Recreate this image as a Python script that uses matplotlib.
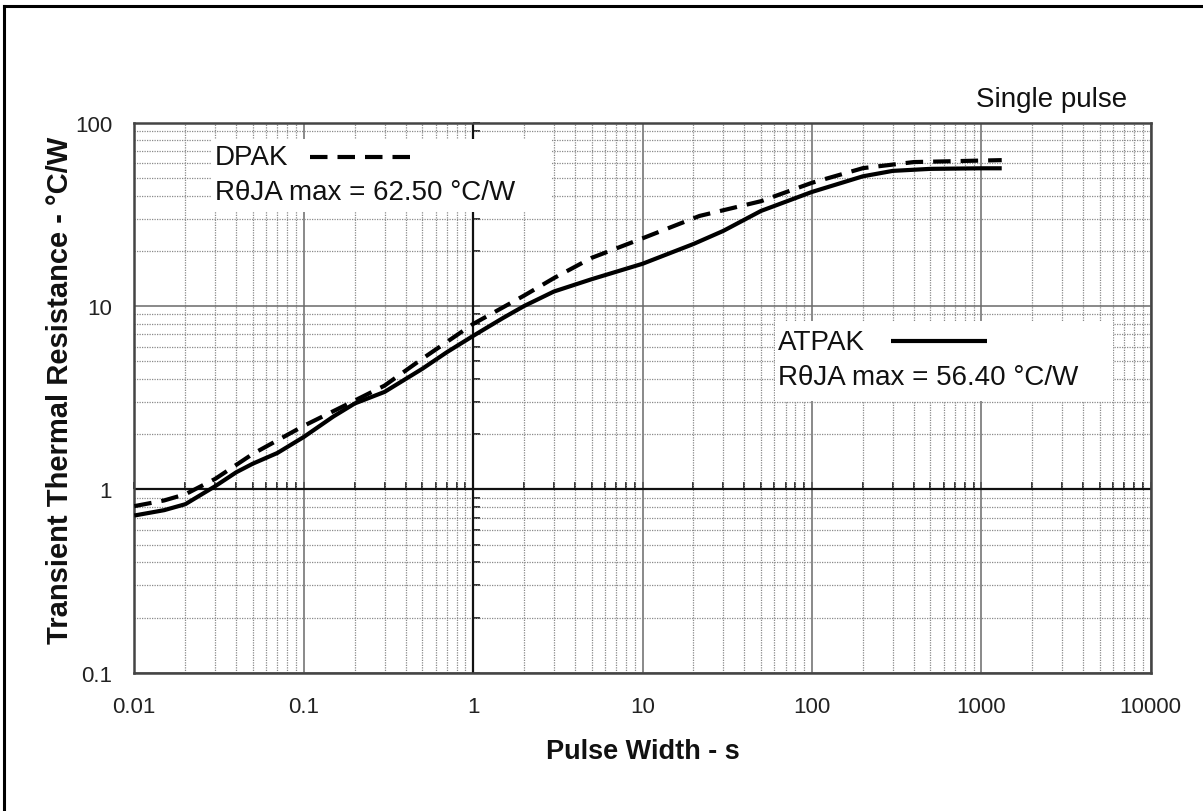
import matplotlib
matplotlib.use("Agg")
import matplotlib.pyplot as plt
from matplotlib.ticker import LogLocator, NullFormatter, FixedLocator, FixedFormatter
from matplotlib.lines import Line2D
from matplotlib.patches import Rectangle
import numpy as np

plt.rcParams['font.family'] = ['Liberation Sans', 'DejaVu Sans']

# ---- data ----
atpak_x = [0.01, 0.015, 0.02, 0.03, 0.04, 0.05, 0.07, 0.1, 0.15, 0.2, 0.3, 0.5, 0.7,
           1, 1.5, 2, 3, 5, 10, 20, 30, 50, 100, 200, 300, 500, 1000, 1320]
atpak_y = [0.72, 0.77, 0.83, 1.04, 1.24, 1.38, 1.58, 1.93, 2.50, 2.94, 3.40, 4.54, 5.6,
           6.87, 8.6, 10.0, 12.0, 14.0, 17.0, 21.8, 25.7, 33.0, 41.9, 51.0, 54.6, 56.0, 56.4, 56.4]

dpak_x = [0.01, 0.015, 0.02, 0.03, 0.05, 0.1, 0.2, 0.3, 0.5, 1, 2, 3, 5, 10, 21.7,
          50, 100, 200, 400, 1320]
dpak_y = [0.81, 0.87, 0.94, 1.14, 1.56, 2.22, 3.05, 3.68, 5.15, 7.98, 11.4, 14.2, 18.3,
          23.4, 31.0, 37.3, 47.0, 56.5, 61.0, 62.5]

x_ticks = [0.01, 0.1, 1, 10, 100, 1000, 10000]
x_labels = ["0.01", "0.1", "1", "10", "100", "1000", "10000"]
y_ticks = [0.1, 1, 10, 100]
y_labels = ["0.1", "1", "10", "100"]

W, H = 1203, 812
fig = plt.figure(figsize=(W / 100, H / 100), dpi=100)

L, R, T, B = 134.3, 1150.7, 123.7, 673.7
pos = [L / W, 1 - B / H, (R - L) / W, (B - T) / H]

# background axes: carries the tick marks of the internal axes (x=1, y=1)
ax2 = fig.add_axes(pos)
ax = fig.add_axes(pos, sharex=ax2, sharey=ax2)
ax2.set_zorder(1)
ax.set_zorder(2)
ax.patch.set_visible(False)
ax2.patch.set_facecolor('white')

ax.set_xscale('log')
ax.set_yscale('log')
ax.set_xlim(0.01, 10000)
ax.set_ylim(0.1, 100)

for a in (ax, ax2):
    a.xaxis.set_minor_locator(LogLocator(base=10, subs=np.arange(2, 10)))
    a.yaxis.set_minor_locator(LogLocator(base=10, subs=np.arange(2, 10)))
    a.xaxis.set_minor_formatter(NullFormatter())
    a.yaxis.set_minor_formatter(NullFormatter())

ax.xaxis.set_major_locator(FixedLocator(x_ticks))
ax.xaxis.set_major_formatter(FixedFormatter(x_labels))
ax.yaxis.set_major_locator(FixedLocator(y_ticks))
ax.yaxis.set_major_formatter(FixedFormatter(y_labels))

ax.tick_params(which='both', length=0)
ax.tick_params(axis='x', labelsize=16, pad=17, colors='#222222')
ax.tick_params(axis='y', labelsize=16, pad=16, colors='#222222')

ax.grid(which='major', color='#6a6a6a', linestyle='-', linewidth=1.1)
ax.grid(which='minor', color='#8a8a8a', linestyle=(0, (1, 1)), linewidth=0.9)
ax.set_axisbelow(True)

for s in ax.spines.values():
    s.set_color('#444444')
    s.set_linewidth(1.8)

ax2.spines['left'].set_position(('data', 1))
ax2.spines['bottom'].set_position(('data', 1))
for s in ax2.spines.values():
    s.set_visible(False)
ax2.tick_params(which='both', direction='in', length=5, width=1.2, color='#111111',
                labelbottom=False, labelleft=False)
ax2.grid(False)

# internal axis lines at x=1 and y=1
ax.axvline(1, color='#111111', linewidth=1.6, zorder=1.5)
ax.axhline(1, color='#111111', linewidth=1.6, zorder=1.5)

# curves
ax.plot(atpak_x, atpak_y, color='black', linewidth=3.0, solid_capstyle='butt',
        solid_joinstyle='round', zorder=3)
ax.plot(dpak_x, dpak_y, color='black', linewidth=3.0, linestyle=(0, (4.2, 2.4)),
        dash_capstyle='butt', zorder=3)

# legend boxes
def frac_x(px):
    return (px - L) / (R - L)

def frac_y(py):
    return (B - py) / (B - T)

ax.add_patch(Rectangle((frac_x(212), frac_y(213)), frac_x(552) - frac_x(212),
                       frac_y(140) - frac_y(213), transform=ax.transAxes,
                       facecolor='white', edgecolor='none', zorder=2))
ax.add_patch(Rectangle((frac_x(775), frac_y(402)), frac_x(1113) - frac_x(775),
                       frac_y(322) - frac_y(402), transform=ax.transAxes,
                       facecolor='white', edgecolor='none', zorder=2))

txt_kw = dict(transform=ax.transAxes, fontsize=20, color='#111111', va='center',
              ha='left', zorder=4)
ax.text(frac_x(215), frac_y(158), "DPAK", **txt_kw)
ax.text(frac_x(215), frac_y(193), "R\u03b8JA max = 62.50 \u00b0C/W", **txt_kw)
ax.text(frac_x(778), frac_y(343), "ATPAK", **txt_kw)
ax.text(frac_x(778), frac_y(378), "R\u03b8JA max = 56.40 \u00b0C/W", **txt_kw)

ax.add_line(Line2D([frac_x(310), frac_x(410)], [frac_y(158), frac_y(158)],
                   transform=ax.transAxes, color='black', linewidth=3.0,
                   linestyle=(0, (4.2, 2.4)), dash_capstyle='butt', zorder=4))
ax.add_line(Line2D([frac_x(891), frac_x(987)], [frac_y(342), frac_y(342)],
                   transform=ax.transAxes, color='black', linewidth=3.0,
                   solid_capstyle='butt', zorder=4))

ax.text(frac_x(1127), frac_y(100), "Single pulse", transform=ax.transAxes,
        fontsize=20, color='#111111', ha='right', va='center')

# axis titles
fig.text(642.5 / W, 1 - 752 / H, "Pulse Width - s", fontsize=19.5, fontweight='bold',
         ha='center', va='center', color='#111111')
fig.text(60 / W, 1 - 390 / H, "Transient Thermal Resistance - \u00b0C/W", fontsize=21,
         fontweight='bold', rotation=90, ha='center', va='center', color='#111111')

# figure frame (left and top)
fig.add_artist(Line2D([4 / W, 4 / W], [0, 1 - 7 / H], transform=fig.transFigure,
                      color='black', linewidth=2.2))
fig.add_artist(Line2D([4 / W, 1], [1 - 7 / H, 1 - 7 / H], transform=fig.transFigure,
                      color='black', linewidth=2.2))

fig.savefig("out.png", dpi=100, facecolor='white')
